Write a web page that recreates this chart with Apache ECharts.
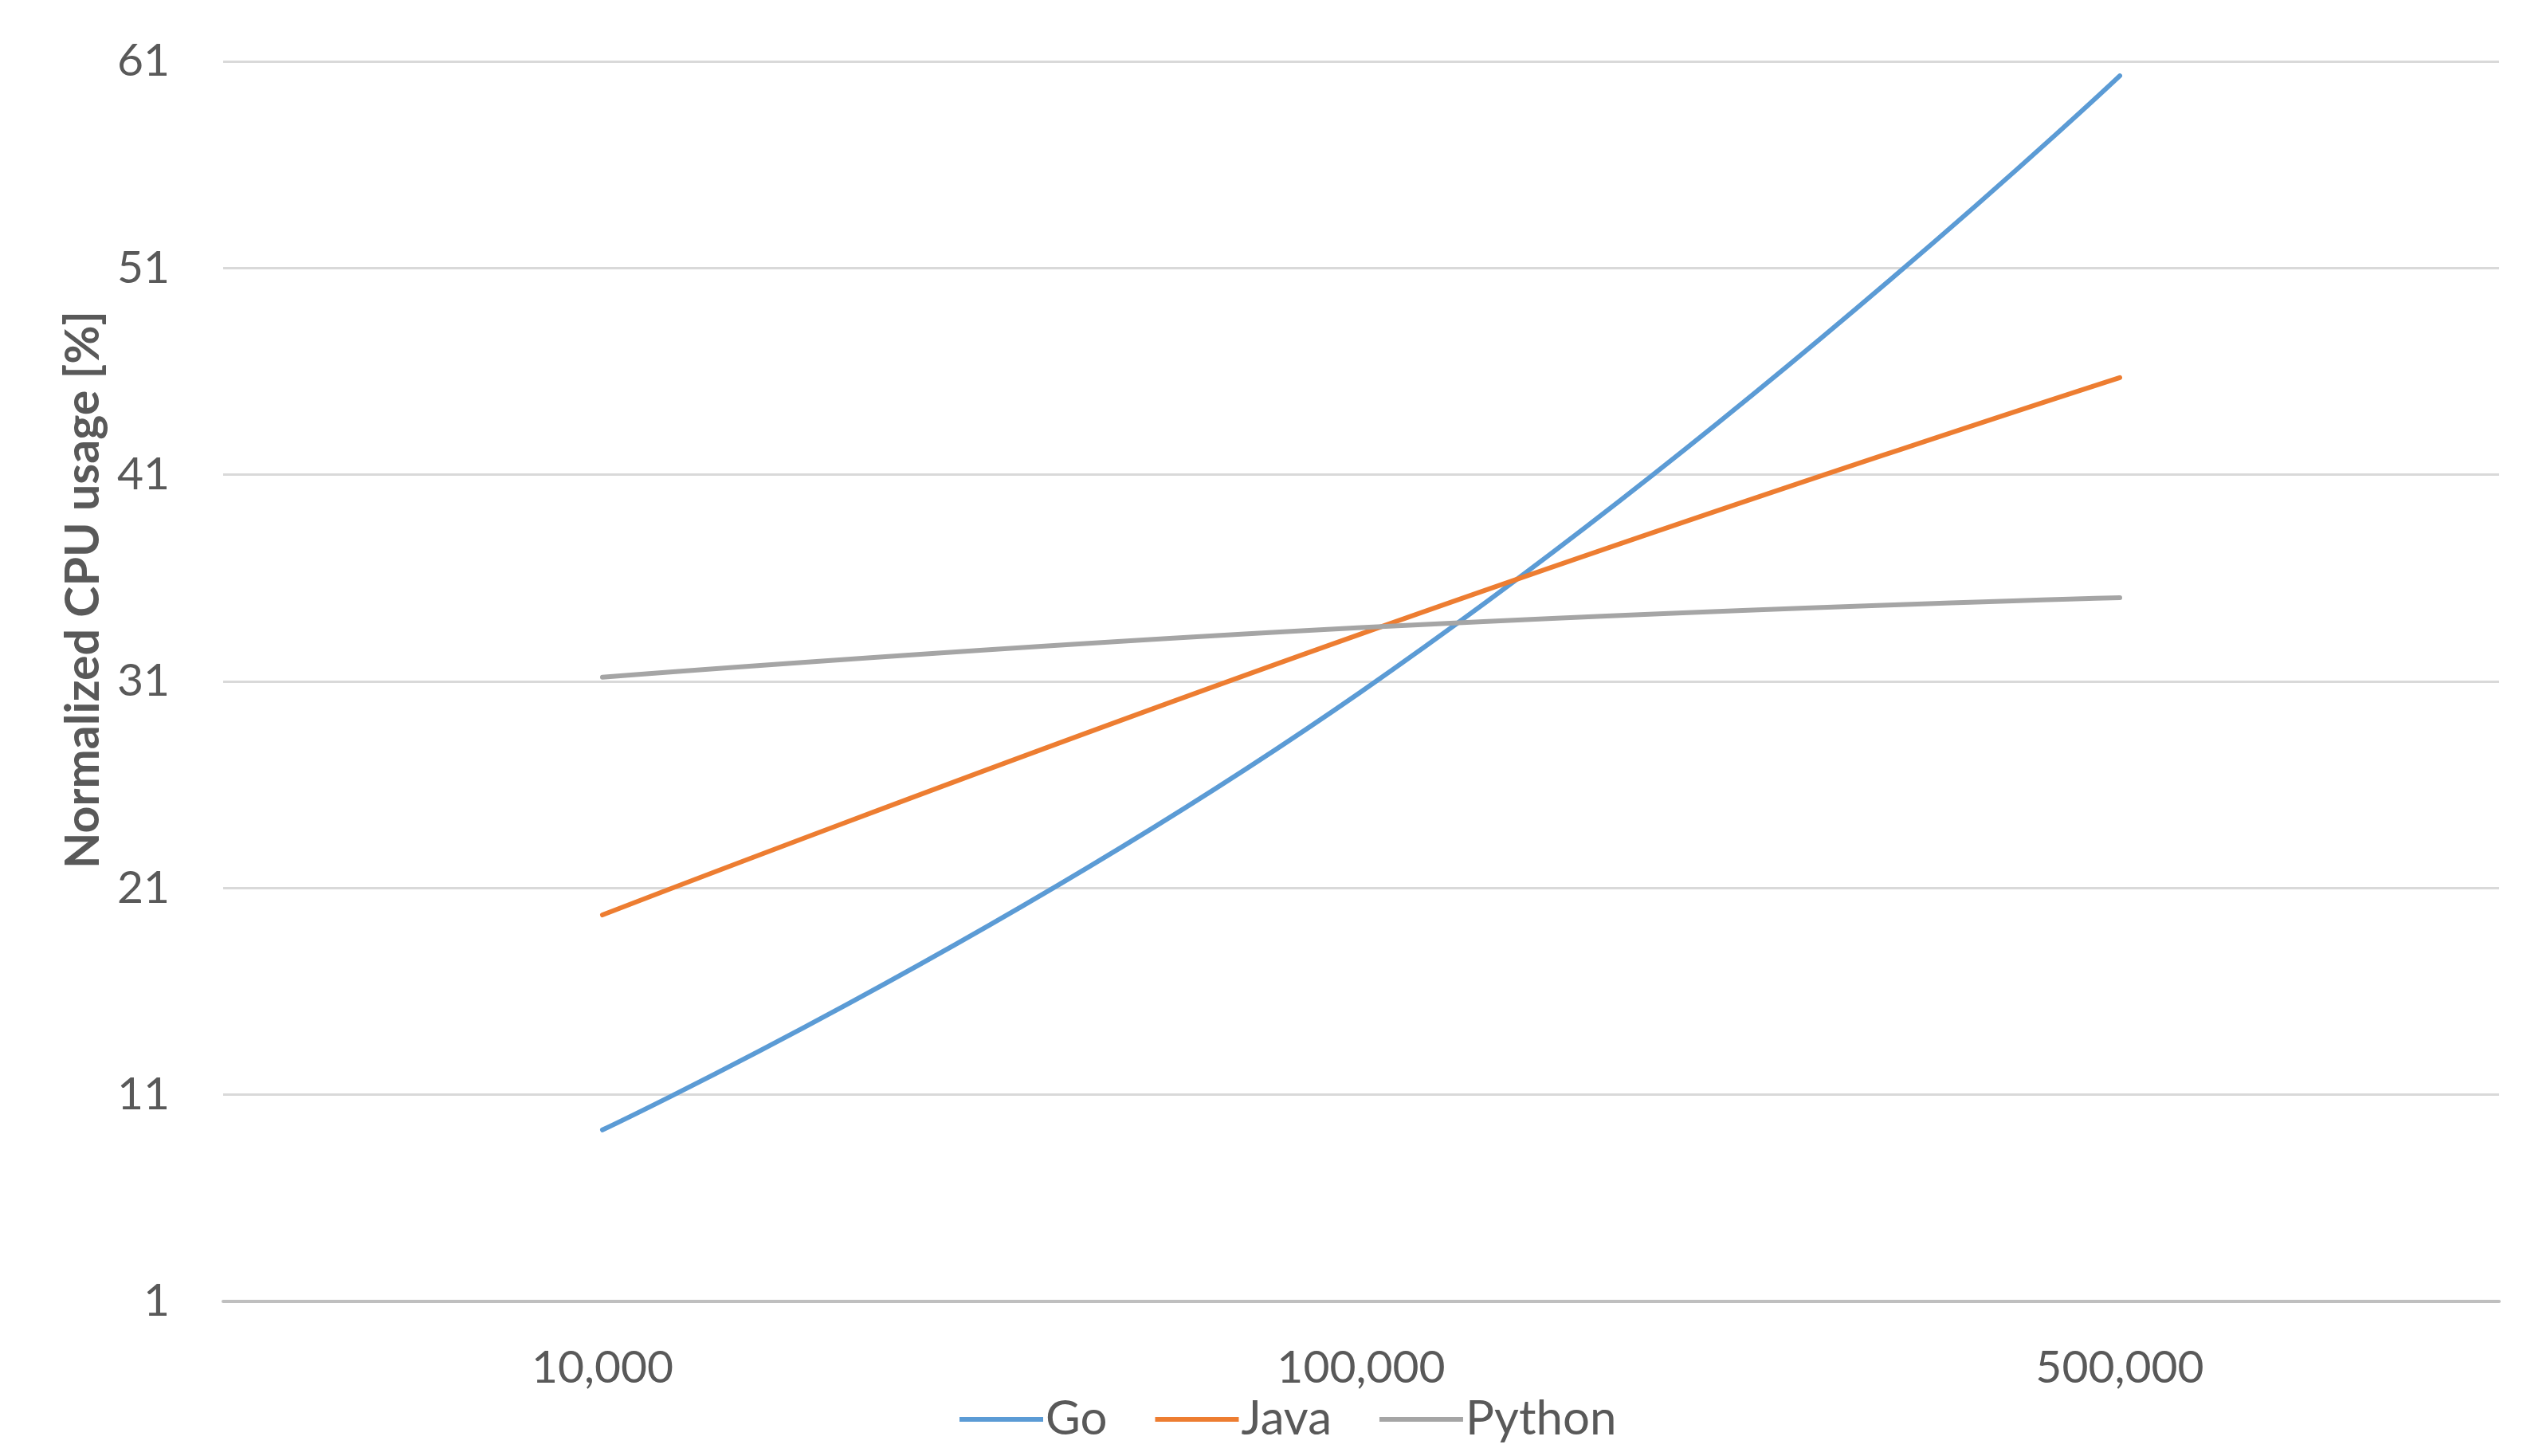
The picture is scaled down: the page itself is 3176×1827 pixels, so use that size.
<!DOCTYPE html>
<html>
<head>
<meta charset="utf-8">
<script src="https://cdn.jsdelivr.net/npm/echarts@6/dist/echarts.min.js"></script>
<style>
html,body{margin:0;padding:0;background:#fff;}
#chart{width:3176px;height:1827px;}
</style>
</head>
<body>
<div id="chart"></div>
<script>
var categories = ['10,000', '100,000', '500,000'];
var goValues = [9.3, 30.5, 60.3];
var javaValues = [19.7, 33.3, 45.7];
var pythonValues = [31.2, 33.6, 35.05];
var yTicks = {min: 1, max: 61, interval: 10};

var FONT = 'Lato';
var chart = echarts.init(document.getElementById('chart'));
function mk(name, data, color) {
  return {
    name: name, type: 'line', data: data, smooth: 0.5,
    symbol: 'none', showSymbol: false,
    lineStyle: {color: color, width: 6, cap: 'round'},
    itemStyle: {color: color},
    animation: false
  };
}
chart.setOption({
  animation: false,
  backgroundColor: '#ffffff',
  grid: {left: 280, right: 40, top: 77, bottom: 194, containLabel: false},
  legend: {
    data: ['Go', 'Java', 'Python'],
    left: 1199, top: 1746,
    icon: 'rect', itemWidth: 105, itemHeight: 6, itemGap: 60,
    textStyle: {fontFamily: FONT, fontSize: 60, color: '#595959', padding: [0, 0, 0, -2]}
  },
  xAxis: {
    type: 'category', data: categories, boundaryGap: true,
    axisLine: {lineStyle: {color: '#BFBFBF', width: 4}},
    axisTick: {show: false},
    axisLabel: {fontFamily: FONT, fontSize: 57, color: '#595959', margin: 55},
    splitLine: {show: false}
  },
  yAxis: {
    type: 'value', min: yTicks.min, max: yTicks.max, interval: yTicks.interval,
    name: 'Normalized CPU usage [%]', nameLocation: 'middle', nameGap: 146,
    nameTextStyle: {fontFamily: FONT, fontSize: 59, fontWeight: 'bold', color: '#595959', padding: [0, 0, 0, 230]},
    axisLine: {show: false}, axisTick: {show: false},
    axisLabel: {fontFamily: FONT, fontSize: 57, color: '#595959', margin: 67},
    splitLine: {lineStyle: {color: '#D9D9D9', width: 3}}
  },
  series: [
    mk('Go', goValues, '#5B9BD5'),
    mk('Java', javaValues, '#ED7D31'),
    mk('Python', pythonValues, '#A5A5A5')
  ]
});
</script>
</body>
</html>
